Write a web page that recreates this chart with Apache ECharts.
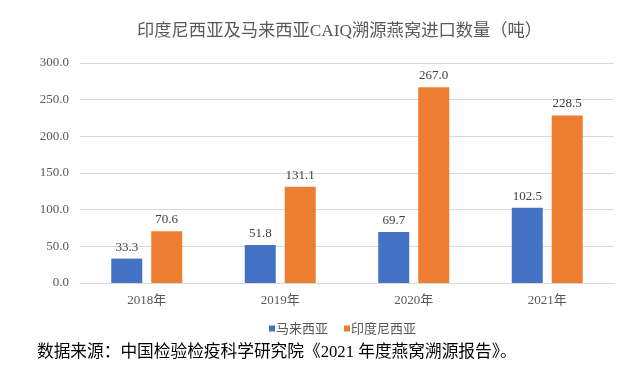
<!DOCTYPE html>
<html><head><meta charset="utf-8">
<script src="https://cdn.jsdelivr.net/npm/echarts@6/dist/echarts.min.js"></script>
<style>html,body{margin:0;padding:0;background:#fff}#c{width:640px;height:374px}</style>
</head><body><div id="c"></div>
<script>
const categories = ['2018年','2019年','2020年','2021年'];
const malaysia = [33.3, 51.8, 69.7, 102.5];
const indonesia = [70.6, 131.1, 267.0, 228.5];
const seriesNames = ['马来西亚','印度尼西亚'];
const titleText = '印度尼西亚及马来西亚CAIQ溯源燕窝进口数量（吨）';
const sourceText = '数据来源：中国检验检疫科学研究院《2021 年度燕窝溯源报告》。';

const serif = '"Liberation Serif","Times New Roman","Noto Sans CJK SC",serif';
const chart = echarts.init(document.getElementById('c'));
const lbl = {show:true, position:'top', formatter: p => p.value.toFixed(1), color:'#404040', fontFamily:serif, fontSize:13, distance:5};
chart.setOption({
  animation:false,
  title:{text:titleText, left:132, top:18, textStyle:{fontFamily:serif, fontSize:17.3, fontWeight:'normal', color:'#595959'}},
  grid:{left:80, right:26, top:63, bottom:91},
  legend:{data:seriesNames, top:317, left:264, itemWidth:6, itemHeight:6, itemGap:16, icon:'rect',
    textStyle:{fontFamily:'"Noto Sans CJK SC",sans-serif', fontSize:13, color:'#595959', padding:[0,0,0,-4]}},
  xAxis:{type:'category', data:categories, axisLine:{lineStyle:{color:'#d9d9d9'}}, axisTick:{show:false},
    axisLabel:{fontFamily:serif, fontSize:13, color:'#595959', margin:11}},
  yAxis:{type:'value', min:0, max:300, interval:50, axisLine:{show:false}, axisTick:{show:false},
    splitLine:{lineStyle:{color:'#d9d9d9'}},
    axisLabel:{formatter:v=>v.toFixed(1), fontFamily:serif, fontSize:13, color:'#595959', margin:11}},
  series:[
    {name:seriesNames[0], type:'bar', data:malaysia, barWidth:31, barGap:'29%', itemStyle:{color:'#4472c4'}, label:lbl},
    {name:seriesNames[1], type:'bar', data:indonesia, barWidth:31, barGap:'29%', itemStyle:{color:'#ed7d31'}, label:lbl}
  ],
  graphic:[{type:'text', left:37, top:344, style:{text:sourceText, fontFamily:serif, fontSize:16.7, fill:'#000'}}]
});
</script></body></html>
